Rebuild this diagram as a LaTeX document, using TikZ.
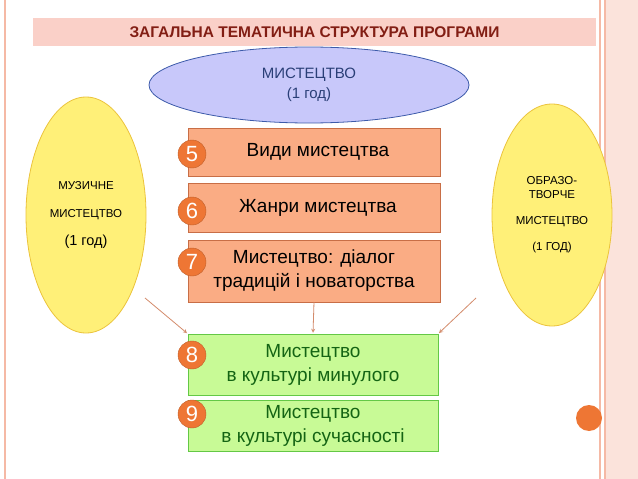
\documentclass[tikz,border=0pt]{standalone}
\usepackage{fontspec}
\setmainfont{Liberation Sans}
\usetikzlibrary{shapes.geometric,positioning}
\definecolor{titlebg}{RGB}{250,208,200}
\definecolor{titlefg}{RGB}{130,30,20}
\definecolor{skyfill}{RGB}{200,200,250}
\definecolor{skyline}{RGB}{60,90,170}
\definecolor{sunfill}{RGB}{255,240,120}
\definecolor{sunline}{RGB}{235,195,60}
\definecolor{peach}{RGB}{250,172,132}
\definecolor{peachline}{RGB}{200,110,70}
\definecolor{leaf}{RGB}{200,250,150}
\definecolor{leafline}{RGB}{100,200,70}
\definecolor{leaftext}{RGB}{20,100,20}
\definecolor{dot}{RGB}{238,118,52}
\definecolor{frame}{RGB}{245,185,165}

\tikzset{
  themebox/.style={draw=peachline,fill=peach,minimum width=252pt,align=center,font=\fontsize{19}{24}\selectfont},
  erabox/.style={draw=leafline,fill=leaf,text=leaftext,minimum width=250pt,align=center,font=\fontsize{19}{24}\selectfont},
  sideoval/.style={ellipse,draw=sunline,fill=sunfill,thick,align=center,font=\fontsize{11.5}{14}\selectfont},
  num/.style={circle,fill=dot,draw=dot!80!black,text=white,minimum size=28pt,inner sep=0pt,font=\fontsize{22}{22}\selectfont},
  link/.style={-stealth,draw=peachline!80!white,thick,shorten >=1pt}
}

\begin{document}
\begin{tikzpicture}[x=1pt,y=-1pt]
  \useasboundingbox (0,0) rectangle (638,479);
  % slide frame
  \fill[frame!40] (605,0) rectangle (638,479);
  \draw[frame,line width=1.5pt] (5,0) -- (5,479) (600,0) -- (600,479) (605,0) -- (605,479);
  \node[circle,fill=dot,minimum size=26pt,inner sep=0pt] (deco) at (589,418) {};
  % title
  \node[fill=titlebg,minimum width=563pt,minimum height=28pt,text=titlefg,font=\bfseries\fontsize{15.5}{18}\selectfont] (title) at (314.5,32) {ЗАГАЛЬНА ТЕМАТИЧНА СТРУКТУРА ПРОГРАМИ};
  % ovals
  \node[ellipse,draw=skyline,fill=skyfill,thick,minimum width=320pt,minimum height=76pt,align=center,text=skyline!70!black,font=\fontsize{15}{20}\selectfont] (art) at (309,85) {МИСТЕЦТВО\\(1 год)};
  \node[sideoval,minimum width=120pt,minimum height=236pt] (music) at (86,215) {МУЗИЧНЕ\\[14pt]МИСТЕЦТВО\\[14pt]{\fontsize{14.5}{17}\selectfont (1 год)}};
  \node[sideoval,minimum width=120pt,minimum height=222pt] (visual) at (552,215) {ОБРАЗО-\\ТВОРЧЕ\\[12pt]МИСТЕЦТВО\\[12pt](1 ГОД)};
  % theme boxes
  \node[themebox,minimum height=48pt] (kinds) at (314,152) {\hspace*{8pt}Види мистецтва};
  \node[themebox,minimum height=49pt,below=7pt of kinds] (genres) {\hspace*{8pt}Жанри мистецтва};
  \node[themebox,minimum height=62pt,below=7pt of genres] (dialog) {Мистецтво: діалог\\традицій і новаторства};
  \node[erabox,minimum height=61pt] (past) at (313,364.5) {Мистецтво\\в культурі минулого};
  \node[erabox,minimum height=51pt,below=5pt of past] (now) {Мистецтво\\в культурі сучасності};
  % numbers
  \node[num] (n5) at (192,154) {5};
  \node[num] (n6) at (192,211) {6};
  \node[num] (n7) at (192,262) {7};
  \node[num] (n8) at (192,355) {8};
  \node[num] (n9) at (192,414) {9};
  % links
  \coordinate (mfoot) at (145,298);
  \coordinate (vfoot) at (476,298);
  \draw[link] (mfoot) -- (past.north west);
  \draw[link] (dialog.south) -- (past.north);
  \draw[link] (vfoot) -- (past.north east);
\end{tikzpicture}
\end{document}
